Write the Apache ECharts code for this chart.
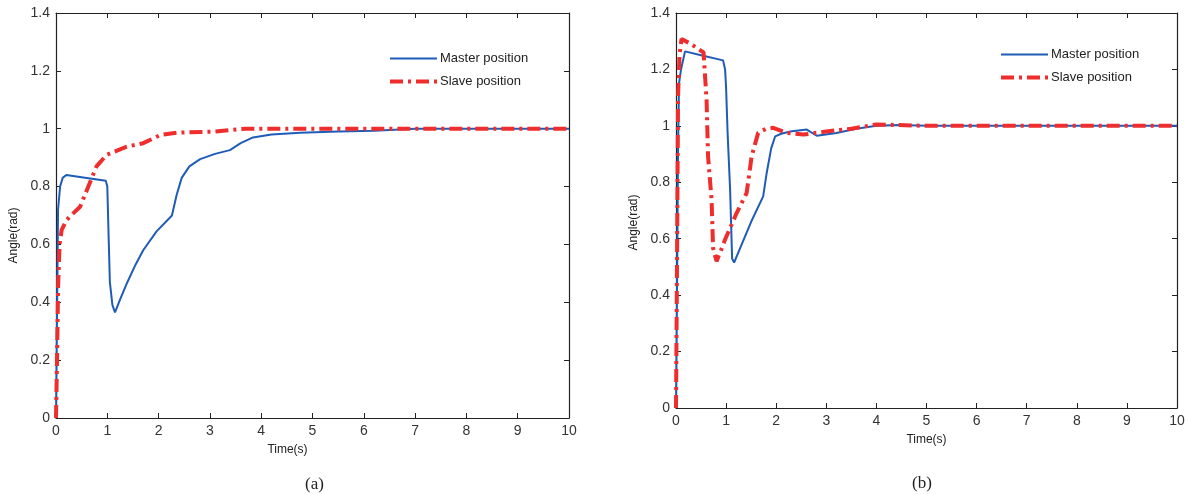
<!DOCTYPE html>
<html>
<head>
<meta charset="utf-8">
<script src="https://cdn.jsdelivr.net/npm/echarts@6/dist/echarts.min.js"></script>
<style>
  html, body { margin: 0; padding: 0; background: #fff; }
  #chart { width: 1188px; height: 494px; }
</style>
</head>
<body>
<div id="chart"></div>
<script>
// (a) master / slave, time in s, angle in rad
const masterA_t = [0, 0.02, 0.04, 0.08, 0.13, 0.2, 0.6, 0.97, 1.0, 1.03, 1.05, 1.1, 1.15, 1.25, 1.38, 1.55, 1.7, 1.96, 2.26, 2.35, 2.45, 2.6, 2.81, 3.1, 3.39, 3.6, 3.84, 4.2, 4.76, 5.5, 6.2, 7, 8, 9, 10];
const masterA_v = [0, 0.35, 0.72, 0.80, 0.83, 0.84, 0.83, 0.82, 0.80, 0.60, 0.47, 0.39, 0.365, 0.41, 0.465, 0.53, 0.58, 0.645, 0.70, 0.77, 0.83, 0.87, 0.895, 0.913, 0.926, 0.95, 0.97, 0.98, 0.986, 0.99, 0.993, 1.0, 1.0, 1.0, 1.0];
const slaveA_t = [0, 0.02, 0.04, 0.07, 0.11, 0.21, 0.35, 0.47, 0.63, 0.79, 0.99, 1.2, 1.38, 1.7, 2.03, 2.35, 3.07, 3.7, 4.5, 5, 6, 7, 8, 9, 10];
const slaveA_v = [0, 0.2, 0.45, 0.6, 0.65, 0.685, 0.71, 0.73, 0.80, 0.87, 0.91, 0.925, 0.938, 0.95, 0.978, 0.986, 0.99, 1.0, 1.0, 1.0, 1.0, 1.0, 1.0, 1.0, 1.0];

// (b)
const masterB_t = [0, 0.02, 0.04, 0.06, 0.1, 0.18, 0.5, 0.94, 0.98, 1.0, 1.03, 1.08, 1.12, 1.16, 1.28, 1.5, 1.74, 1.81, 1.9, 1.98, 2.1, 2.28, 2.61, 2.81, 3.2, 3.6, 4.0, 4.47, 5, 6, 7, 8, 9, 10];
const masterB_v = [0, 0.4, 0.9, 1.15, 1.2, 1.264, 1.25, 1.232, 1.2, 1.134, 0.975, 0.774, 0.53, 0.515, 0.567, 0.66, 0.75, 0.833, 0.92, 0.963, 0.972, 0.98, 0.987, 0.965, 0.975, 0.99, 1.0, 1.003, 1.0, 1.0, 1.0, 1.0, 1.0, 1.0];
const slaveB_t = [0, 0.02, 0.04, 0.07, 0.11, 0.3, 0.55, 0.61, 0.64, 0.71, 0.74, 0.81, 0.9, 0.98, 1.21, 1.41, 1.51, 1.64, 1.8, 1.94, 2.21, 2.54, 3.0, 3.5, 4.0, 5, 6, 7, 8, 9, 10];
const slaveB_v = [0, 0.5, 1.1, 1.25, 1.308, 1.29, 1.26, 1.093, 0.892, 0.738, 0.567, 0.52, 0.56, 0.597, 0.691, 0.762, 0.892, 0.975, 0.99, 0.993, 0.975, 0.969, 0.98, 0.99, 1.005, 1.0, 1.0, 1.0, 1.0, 1.0, 1.0];

const seriesNames = ["Master position", "Slave position"];
const captions = ["(a)", "(b)"];

const zip = (t, v) => t.map((x, i) => [x, v[i]]);

const FONT = "Liberation Sans, Arial, sans-serif";
const AXIS = "#222";
const BLUE = "#1f5cb8";
const RED = "#ef2d2d";
const masterLine = { color: BLUE, width: 2 };
const slaveLine = { color: RED, width: 4, type: [13, 5, 3, 5] };

const grids = [
  { left: 56, top: 13, width: 513, height: 405 },
  { left: 676, top: 13, width: 501, height: 395 },
];

function xAxes(gi, namePad) {
  const base = {
    gridIndex: gi, type: "value", min: 0, max: 10, interval: 1,
    axisLine: { show: true, onZero: false, lineStyle: { color: AXIS, width: 1.2 } },
    axisTick: { show: true, inside: true, length: 5, lineStyle: { color: AXIS } },
    splitLine: { show: false },
  };
  return [
    Object.assign({}, base, {
      position: "bottom",
      axisLabel: { color: "#333", fontFamily: FONT, fontSize: 14, margin: 6 },
      name: "Time(s)", nameLocation: "middle", nameGap: 26,
      nameTextStyle: { color: "#222", fontFamily: FONT, fontSize: 12, padding: namePad },
    }),
    Object.assign({}, base, { position: "top", axisLabel: { show: false } }),
  ];
}

function yAxes(gi, namePad) {
  const base = {
    gridIndex: gi, type: "value", min: 0, max: 1.4, interval: 0.2,
    axisLine: { show: true, onZero: false, lineStyle: { color: AXIS, width: 1.2 } },
    axisTick: { show: true, inside: true, length: 5, lineStyle: { color: AXIS } },
    splitLine: { show: false },
  };
  return [
    Object.assign({}, base, {
      position: "left",
      axisLabel: { color: "#333", fontFamily: FONT, fontSize: 14, margin: 6,
        formatter: (v) => String(Math.round(v * 10) / 10) },
      name: "Angle(rad)", nameLocation: "middle", nameGap: 36,
      nameTextStyle: { color: "#222", fontFamily: FONT, fontSize: 12, padding: namePad },
    }),
    Object.assign({}, base, { position: "right", axisLabel: { show: false } }),
  ];
}

function lineSeries(name, data, xi, yi, isSlave) {
  return {
    name, type: "line", data, xAxisIndex: xi, yAxisIndex: yi,
    showSymbol: false, symbol: "none", animation: false,
    color: isSlave ? RED : BLUE,
    lineStyle: isSlave ? slaveLine : masterLine,
  };
}

const legendBase = {
  orient: "vertical", itemWidth: 47, itemHeight: 14, itemGap: 10, padding: 0,
  itemStyle: { opacity: 0 },
  textStyle: { color: "#222", fontFamily: FONT, fontSize: 13, padding: [0, 0, 0, -2] },
  data: [
    { name: seriesNames[0], lineStyle: masterLine },
    { name: seriesNames[1], lineStyle: slaveLine },
  ],
};

const option = {
  backgroundColor: "#fff",
  animation: false,
  grid: grids,
  xAxis: [...xAxes(0, [0, 50, 0, 0]), ...xAxes(1, [0, 0, 0, 0])],
  yAxis: [...yAxes(0, [0, 40, 0, 0]), ...yAxes(1, [0, 24, 0, 0])],
  legend: [
    Object.assign({}, legendBase, { left: 388, top: 52 }),
    Object.assign({}, legendBase, { left: 999, top: 48 }),
  ],
  title: [
    { text: captions[0], left: 300, top: 471, textStyle: { fontFamily: "Liberation Serif, Times New Roman, serif", fontSize: 17, fontWeight: "normal", color: "#222" } },
    { text: captions[1], left: 907, top: 470, textStyle: { fontFamily: "Liberation Serif, Times New Roman, serif", fontSize: 17, fontWeight: "normal", color: "#222" } },
  ],
  series: [
    lineSeries(seriesNames[0], zip(masterA_t, masterA_v), 0, 0, false),
    lineSeries(seriesNames[1], zip(slaveA_t, slaveA_v), 0, 0, true),
    lineSeries(seriesNames[0], zip(masterB_t, masterB_v), 2, 2, false),
    lineSeries(seriesNames[1], zip(slaveB_t, slaveB_v), 2, 2, true),
  ],
};

const chart = echarts.init(document.getElementById("chart"), null, { renderer: "canvas" });
chart.setOption(option);
</script>
</body>
</html>
